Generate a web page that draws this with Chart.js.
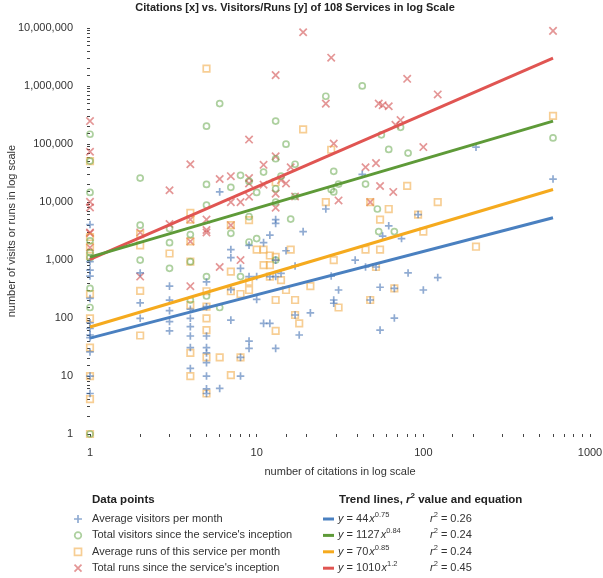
<!DOCTYPE html>
<html>
<head>
<meta charset="utf-8">
<script src="https://cdn.jsdelivr.net/npm/chart.js@4.4.1/dist/chart.umd.min.js"></script>
<style>
  html, body { margin: 0; padding: 0; background: #fff; }
  #wrap { width: 603px; height: 578px; }
</style>
</head>
<body>
<div id="wrap"><canvas id="chart"></canvas></div>
<script>
// citations (x) and values (y), one pair of lists per series
const blueCites = [1,1,1,1,1,1,1,1,1,1,1,1, 2,2,2, 3,3,3,3,3, 4,4,4,4,4,4, 5,5,5,5,5,5,5,5,5, 6,6, 7,7,7,7, 8,8,8, 9,9,9,9, 10,10, 11,11, 12,12,12, 13,13,13,13,13, 14, 15, 17,17, 18, 19, 21, 26, 28, 29,29, 31, 39, 43, 45, 48, 52, 55,55, 57, 62, 67,67, 74, 81, 93, 100, 122, 207, 600];
const blueVals = [4100,940,670,530,218,83,66,51,46,26,10,5, 600,183,99, 355,204,134,87,60, 142,99,71,49,31,13.5, 420,157,49,31,25,17,10,6,5, 15000,6.1, 1520,1100,310,92, 720,21,10, 1800,520,40,30, 520,210, 2000,81, 2700,520,81, 5000,4300,1000,520,30, 590, 1450, 790,113, 51, 3100, 123, 7600, 530, 205,180, 305, 1000, 30000, 760, 205, 760, 340,62, 2600, 3900, 325,100, 2350, 600, 6100, 305, 500, 89000, 25000];

const greenCites = [1,1,1,1,1,1,1,1,1, 2,2,2, 3,3,3, 4,4,4, 5,5,5,5,5, 6,6, 7,7, 8,8, 9,9,9, 10,10, 11, 13,13,13,13,13, 14, 15, 16, 17,17, 26, 28, 29,29, 31, 43, 45, 53, 54, 56, 62, 67, 73, 81, 600];
const greenVals = [148000,51000,14700,2150,1350,1100,325,152,1, 26000,4000,1000, 3500,2000,720, 2750,940,204, 204000,20200,8900,520,240, 500000,152, 18000,2900, 29000,520, 23000,5600,2050, 14700,2350, 33000, 250000,56000,17000,10000,1000, 28000, 100000, 5100, 45000,12500, 670000, 16500, 34000,15000, 20500, 1010000, 20500, 7600, 3100, 145000, 81000, 3100, 195000, 70000, 128000];

const orangeCites = [1,1,1,1,1,1,1,1,1,1, 2,2,2,2, 3, 4,4,4,4,4,4,4, 5,5,5,5,5,5,5, 6, 7,7,7,7, 8,8, 9,9,9, 10, 11,11, 12,12,12, 13,13,13,13, 14, 15, 16, 17,17, 18, 19, 21, 26, 28, 29, 31, 45, 48,48, 52, 55,55, 62, 67, 80, 93, 100, 122, 207, 600];
const orangeVals = [51000,2500,1700,1180,260,99,31,10,4,1, 2800,1800,295,50, 1300, 6500,5000,2100,940,167,25,10, 2000000,290,157,99,62,21,5, 21, 4000,630,290,10.4, 260,21, 4900,420,305, 1520, 1520,820, 1200,820,520, 22000,1140,205,60, 450, 305, 1520, 205,113, 81, 180000, 355, 10000, 80000, 1000, 152, 1520, 10000,205, 760, 5000,1520, 7600, 325, 19000, 6100, 3100, 10000, 1700, 307000];

const redCites = [1,1,1,1,1,1,1, 2,2, 3,3, 4,4,4,4, 5,5,5, 6,6, 7,7,7, 8,8, 9,9,9,9, 11,11, 13,13,13,13, 14, 15, 16, 17, 19, 26, 28, 29, 31, 45, 48, 52, 54, 55, 57, 62, 66, 68, 73, 80, 100, 122, 600];
const redVals = [250000,74000,10100,8100,3000,2900,1650, 3000,520, 16000,4200, 45000,5000,2100,355, 5000,3300,3000, 25000,760, 28000,10000,4000, 10000,1000, 120000,26000,21000,12400, 44000,20000, 1550000,61500,14000,8000, 24000, 21000, 40000, 12500, 8500000, 500000, 3100000, 102000, 10700, 40000, 10000, 47000, 500000, 19000, 470000, 450000, 15000, 215000, 260000, 1340000, 89000, 720000, 9000000];

// trend line end points (x = 1 and x = 600)
const trendCites = [1, 600];
const blueTrend = [45, 5370];
const greenTrend = [1127, 249000];
const orangeTrend = [70, 16500];
const redTrend = [1030, 3050000];

// legend texts
const seriesNames = ['Average visitors per month', "Total visitors since the service's inception",
  'Average runs of this service per month', "Total runs since the service's inception"];
const trendCoef = ['44', '1127', '70', '1010'];
const trendExp = ['0.75', '0.84', '0.85', '1.2'];
const trendR2 = ['0.26', '0.24', '0.24', '0.45'];

const FONT = "'Liberation Sans', Arial, Helvetica, sans-serif";
const markerStyles = ['cross', 'circle', 'rect', 'crossRot'];
const markerColors = ['rgba(70,115,180,0.6)', 'rgba(105,170,80,0.55)', 'rgba(240,165,60,0.55)', 'rgba(210,80,80,0.6)'];
const markerRadius = [3.8, 3, 4.6, 5.2];
const lineColors = ['#4a80c0', '#5e9a38', '#f5aa1e', '#e05552'];

function toPoints(xs, ys) {
    return xs.map((x, i) => ({ x: x, y: ys[i] }));
}

function isPow10(v) {
    const l = Math.log10(v);
    return Math.abs(l - Math.round(l)) < 1e-6;
}

const series = [
    [blueCites, blueVals, blueTrend],
    [greenCites, greenVals, greenTrend],
    [orangeCites, orangeVals, orangeTrend],
    [redCites, redVals, redTrend]
];

const datasets = [];
// trend lines first so they sit on top of the markers
series.forEach((s, i) => {
    datasets.push({
        label: 'trend ' + i,
        data: toPoints(trendCites, s[2]),
        showLine: true,
        borderColor: lineColors[i],
        borderWidth: 3,
        pointRadius: 0,
        fill: false,
        clip: false,
        order: 0
    });
});
series.forEach((s, i) => {
    datasets.push({
        label: seriesNames[i],
        data: toPoints(s[0], s[1]),
        showLine: false,
        pointStyle: markerStyles[i],
        pointRadius: markerRadius[i],
        pointBorderWidth: 1.7,
        borderColor: markerColors[i],
        backgroundColor: 'rgba(0,0,0,0)',
        clip: false,
        order: 1
    });
});

function drawMarker(ctx, style, x, y, color) {
    ctx.save();
    ctx.strokeStyle = color;
    ctx.lineWidth = 1.7;
    ctx.beginPath();
    if (style === 'cross') {
        ctx.moveTo(x - 4, y); ctx.lineTo(x + 4, y);
        ctx.moveTo(x, y - 4); ctx.lineTo(x, y + 4);
    } else if (style === 'circle') {
        ctx.arc(x, y, 3.3, 0, Math.PI * 2);
    } else if (style === 'rect') {
        ctx.rect(x - 3.5, y - 3.5, 7, 7);
    } else {
        ctx.moveTo(x - 3.5, y - 3.5); ctx.lineTo(x + 3.5, y + 3.5);
        ctx.moveTo(x + 3.5, y - 3.5); ctx.lineTo(x - 3.5, y + 3.5);
    }
    ctx.stroke();
    ctx.restore();
}

// draws the two legend blocks under the chart
const legendPlugin = {
    id: 'customLegend',
    afterDraw(chart) {
        const ctx = chart.ctx;
        ctx.save();
        ctx.textBaseline = 'middle';
        ctx.fillStyle = '#222';
        ctx.font = 'bold 11.5px ' + FONT;
        ctx.fillText('Data points', 92, 500);
        // trend heading with superscript
        let hx = 339;
        ctx.fillText('Trend lines, ', hx, 500);
        hx += ctx.measureText('Trend lines, ').width;
        ctx.font = 'italic bold 11.5px ' + FONT;
        ctx.fillText('r', hx, 500);
        hx += ctx.measureText('r').width;
        ctx.font = 'bold 8px ' + FONT;
        ctx.fillText('2', hx, 496);
        hx += ctx.measureText('2').width;
        ctx.font = 'bold 11.5px ' + FONT;
        ctx.fillText(' value and equation', hx, 500);

        for (let i = 0; i < 4; i++) {
            const y = 519 + i * 16.4;
            drawMarker(ctx, markerStyles[i], 78, y, markerColors[i]);
            ctx.fillStyle = '#333';
            ctx.font = '11px ' + FONT;
            ctx.fillText(seriesNames[i], 92, y);

            ctx.strokeStyle = lineColors[i];
            ctx.lineWidth = 3;
            ctx.beginPath();
            ctx.moveTo(323, y);
            ctx.lineTo(334, y);
            ctx.stroke();

            let x = 338;
            ctx.font = 'italic 11px ' + FONT;
            ctx.fillText('y', x, y);
            x += ctx.measureText('y').width;
            ctx.font = '11px ' + FONT;
            const mid = ' = ' + trendCoef[i];
            ctx.fillText(mid, x, y);
            x += ctx.measureText(mid).width + 1;
            ctx.font = 'italic 11px ' + FONT;
            ctx.fillText('x', x, y);
            x += ctx.measureText('x').width;
            ctx.font = '7.5px ' + FONT;
            ctx.fillText(trendExp[i], x, y - 4);

            let rx = 430;
            ctx.font = 'italic 11px ' + FONT;
            ctx.fillText('r', rx, y);
            rx += ctx.measureText('r').width;
            ctx.font = '7.5px ' + FONT;
            ctx.fillText('2', rx, y - 4);
            rx += ctx.measureText('2').width;
            ctx.font = '11px ' + FONT;
            ctx.fillText(' = ' + trendR2[i], rx, y);
        }
        ctx.restore();
    }
};

Chart.defaults.font.family = FONT;
Chart.defaults.color = '#333';

new Chart(document.getElementById('chart'), {
    type: 'scatter',
    data: { datasets: datasets },
    plugins: [legendPlugin],
    options: {
        responsive: true,
        maintainAspectRatio: false,
        animation: false,
        layout: { padding: { left: 0, right: 13, top: 0, bottom: 96 } },
        plugins: {
            legend: { display: false },
            tooltip: { enabled: false },
            title: {
                display: true,
                text: 'Citations [x] vs. Visitors/Runs [y] of 108 Services in log Scale',
                color: '#222',
                font: { size: 11, weight: 'bold' },
                padding: { top: 1, bottom: 14 }
            }
        },
        scales: {
            x: {
                type: 'logarithmic',
                position: 'bottom',
                min: 1,
                max: 1000,
                border: { display: false },
                grid: { drawOnChartArea: false, tickLength: 3, color: '#444', lineWidth: 1 },
                ticks: {
                    autoSkip: false,
                    maxRotation: 0,
                    padding: 9,
                    color: '#333',
                    font: { size: 11 },
                    callback: v => isPow10(v) ? String(Math.round(v)) : ''
                },
                title: {
                    display: true,
                    text: 'number of citations in log scale',
                    color: '#333',
                    font: { size: 11 },
                    padding: { top: 4, bottom: 3 }
                },
                afterFit: s => {
                    s.height = 48;
                    // the last label may hang past the plot edge, as in the picture
                    s.paddingRight = 0;
                }
            },
            y: {
                type: 'logarithmic',
                position: 'left',
                min: 1,
                max: 10000000,
                border: { display: false },
                grid: { drawOnChartArea: false, tickLength: 3, color: '#444', lineWidth: 1 },
                ticks: {
                    autoSkip: false,
                    padding: 14,
                    color: '#333',
                    font: { size: 11 },
                    callback: v => isPow10(v) ? Math.round(v).toLocaleString('en-US') : ''
                },
                title: {
                    display: true,
                    text: 'number of visits or runs in log scale',
                    color: '#333',
                    font: { size: 11 },
                    padding: { top: 5, bottom: 2 }
                },
                afterFit: s => { s.width = 90; }
            }
        }
    }
});
</script>
</body>
</html>
